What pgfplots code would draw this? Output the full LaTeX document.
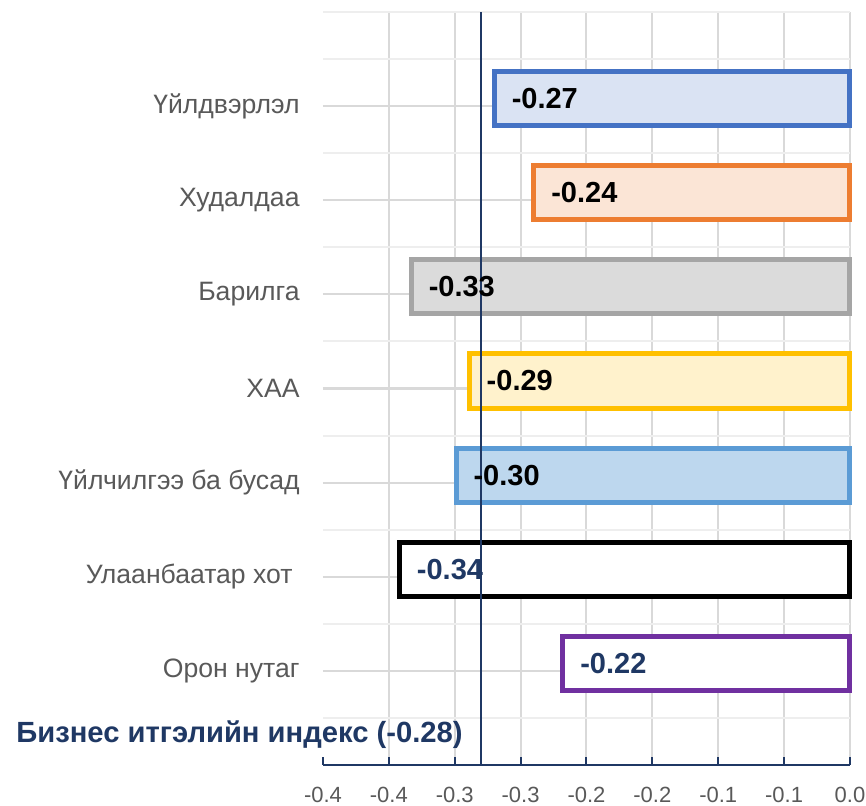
\documentclass[border=0pt]{standalone}
\usepackage{fontspec}
\setmainfont{Liberation Sans}
\usepackage{pgfplots}
\pgfplotsset{compat=1.18}

\definecolor{bizblue}{RGB}{68,114,196}
\definecolor{bizbluefill}{RGB}{218,227,243}
\definecolor{bizorange}{RGB}{237,125,49}
\definecolor{bizorangefill}{RGB}{251,229,214}
\definecolor{bizgray}{RGB}{165,165,165}
\definecolor{bizgrayfill}{RGB}{219,219,219}
\definecolor{bizgold}{RGB}{255,192,0}
\definecolor{bizgoldfill}{RGB}{255,242,204}
\definecolor{bizsky}{RGB}{91,155,213}
\definecolor{bizskyfill}{RGB}{189,215,238}
\definecolor{bizpurple}{RGB}{112,48,160}
\definecolor{biznavy}{RGB}{31,56,100}
\definecolor{labgray}{RGB}{89,89,89}
\definecolor{gridmaj}{RGB}{217,217,217}
\definecolor{gridmin}{RGB}{238,238,238}

\pgfplotsset{
  barlab/.style={nodes near coords,
    every node near coord/.append style={anchor=west, inner sep=0pt, xshift=7.5pt,
      text=#1, font=\bfseries\fontsize{14.5}{16}\selectfont,
      /pgf/number format/.cd, fixed, fixed zerofill, precision=2, assume math mode=true}},
}

\begin{document}
\begin{tikzpicture}
\useasboundingbox (-161.5pt,-20.5pt) rectangle (271.5pt,382.5pt);
\begin{axis}[
  scale only axis, width=263.5pt, height=376.5pt,
  xbar, bar width=27pt, bar shift=3.75pt,
  xmin=-0.4, xmax=0, ymin=0, ymax=8,
  clip=false,
  axis lines*=left,
  x axis line style={biznavy, line width=1pt, -},
  y axis line style={draw=none},
  xtick={-0.35,-0.3,-0.25,-0.2,-0.15,-0.1,-0.05,0},
  xticklabels={-0.4,-0.3,-0.3,-0.2,-0.2,-0.1,-0.1,0.0},
  extra x ticks={-0.4}, extra x tick labels={-0.4},
  extra x tick style={grid=none},
  xtick style={biznavy, line width=1pt},
  tick align=inside, major tick length=4pt,
  xticklabel style={font=\fontsize{11}{13}\selectfont, text=labgray, inner sep=0pt, anchor=north, yshift=-11pt},
  ytick={1,2,3,4,5,6,7},
  yticklabels={Орон нутаг, Улаанбаатар хот\hspace*{3.5pt}, Үйлчилгээ ба бусад, ХАА, Барилга, Худалдаа, Үйлдвэрлэл},
  minor ytick={0.5,1.5,2.5,3.5,4.5,5.5,6.5,7.5,8},
  ytick style={draw=none}, minor tick style={draw=none},
  yticklabel style={font=\fontsize{13.3}{15}\selectfont, text=labgray, inner sep=0pt, anchor=east, xshift=-11.5pt},
  grid=both,
  major grid style={gridmaj, line width=1pt},
  minor grid style={gridmin, line width=1pt},
]
\addplot[draw=bizblue, fill=bizbluefill, line width=2.5pt, barlab=black] coordinates {(-0.27,7)};
\addplot[draw=bizorange, fill=bizorangefill, line width=2.5pt, barlab=black] coordinates {(-0.24,6)};
\addplot[draw=bizgray, fill=bizgrayfill, line width=2.5pt, barlab=black] coordinates {(-0.333,5)};
\addplot[draw=bizgold, fill=bizgoldfill, line width=2.5pt, barlab=black] coordinates {(-0.289,4)};
\addplot[draw=bizsky, fill=bizskyfill, line width=2.5pt, barlab=black] coordinates {(-0.299,3)};
\addplot[draw=black, fill=white, line width=2.5pt, barlab=biznavy] coordinates {(-0.342,2)};
\addplot[draw=bizpurple, fill=white, line width=2.5pt, barlab=biznavy] coordinates {(-0.218,1)};
\addplot[sharp plot, biznavy, line width=1pt, mark=none] coordinates {(-0.28,0) (-0.28,8)};
\node[anchor=base east, inner sep=0pt, font=\bfseries\fontsize{14.6}{16}\selectfont, text=biznavy]
  at (axis cs:-0.2937,0.244) {Бизнес итгэлийн индекс (-0.28)};
\end{axis}
\end{tikzpicture}
\end{document}
